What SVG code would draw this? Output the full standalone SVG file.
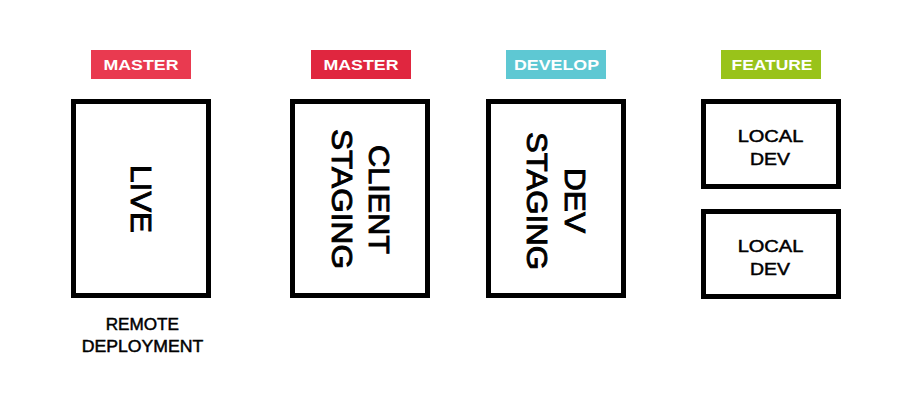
<svg xmlns="http://www.w3.org/2000/svg" width="920" height="400" viewBox="0 0 920 400">
<style>
.box{fill:#fff;stroke:#000;stroke-width:5}
.badge-t{font-family:"Liberation Sans",Arial,sans-serif;font-weight:bold;font-size:15.5px;fill:#fff;text-anchor:middle}
.big{font-family:"Liberation Sans",Arial,sans-serif;font-size:29px;fill:#000;stroke:#000;stroke-width:0.9;text-anchor:middle}
.small{font-family:"Liberation Sans",Arial,sans-serif;font-size:17px;fill:#000;stroke:#000;stroke-width:0.5;text-anchor:middle}
.cap{font-family:"Liberation Sans",Arial,sans-serif;font-size:16px;fill:#000;stroke:#000;stroke-width:0.45;text-anchor:middle}
</style>
<rect width="920" height="400" fill="#fff"/>
<g id="badge-master-1"><rect x="91" y="50" width="100" height="29" fill="#e93a50"/><text class="badge-t" x="141" y="70" textLength="75" lengthAdjust="spacingAndGlyphs">MASTER</text></g>
<g id="badge-master-2"><rect x="311" y="50" width="100" height="29" fill="#e0263f"/><text class="badge-t" x="361" y="70" textLength="75" lengthAdjust="spacingAndGlyphs">MASTER</text></g>
<g id="badge-develop"><rect x="506" y="50" width="100" height="29" fill="#5ec8d3"/><text class="badge-t" x="556.5" y="70" textLength="85" lengthAdjust="spacingAndGlyphs">DEVELOP</text></g>
<g id="badge-feature"><rect x="721" y="50" width="100" height="29" fill="#99c31a"/><text class="badge-t" x="772" y="70" textLength="81" lengthAdjust="spacingAndGlyphs">FEATURE</text></g>
<g id="node-live"><rect class="box" x="73.5" y="101.5" width="135" height="194"/><text class="big" transform="translate(131,199) rotate(90)" textLength="68" lengthAdjust="spacingAndGlyphs">LIVE</text></g>
<g id="node-client-staging"><rect class="box" x="292.5" y="101.5" width="135" height="194"/><text class="big" transform="translate(369,199.5) rotate(90)" textLength="109" lengthAdjust="spacingAndGlyphs">CLIENT</text><text class="big" transform="translate(331.7,199) rotate(90)" textLength="140" lengthAdjust="spacingAndGlyphs">STAGING</text></g>
<g id="node-dev-staging"><rect class="box" x="488.5" y="101.5" width="135" height="194"/><text class="big" transform="translate(565,200.5) rotate(90)" textLength="65" lengthAdjust="spacingAndGlyphs">DEV</text><text class="big" transform="translate(526.7,201) rotate(90)" textLength="138" lengthAdjust="spacingAndGlyphs">STAGING</text></g>
<g id="node-local-dev-1"><rect class="box" x="703.5" y="101.5" width="135" height="85"/><text class="small" x="770.5" y="141.7" textLength="65.7" lengthAdjust="spacingAndGlyphs">LOCAL</text><text class="small" x="770" y="165.3" textLength="40" lengthAdjust="spacingAndGlyphs">DEV</text></g>
<g id="node-local-dev-2"><rect class="box" x="703.5" y="211.5" width="135" height="85"/><text class="small" x="770.5" y="251.7" textLength="65.7" lengthAdjust="spacingAndGlyphs">LOCAL</text><text class="small" x="770" y="275.3" textLength="40" lengthAdjust="spacingAndGlyphs">DEV</text></g>
<g id="label-remote"><text class="cap" x="142.3" y="330" textLength="73.3" lengthAdjust="spacingAndGlyphs">REMOTE</text><text class="cap" x="142.5" y="351.7" textLength="121.7" lengthAdjust="spacingAndGlyphs">DEPLOYMENT</text></g>
<g id="connectors"></g>
</svg>
